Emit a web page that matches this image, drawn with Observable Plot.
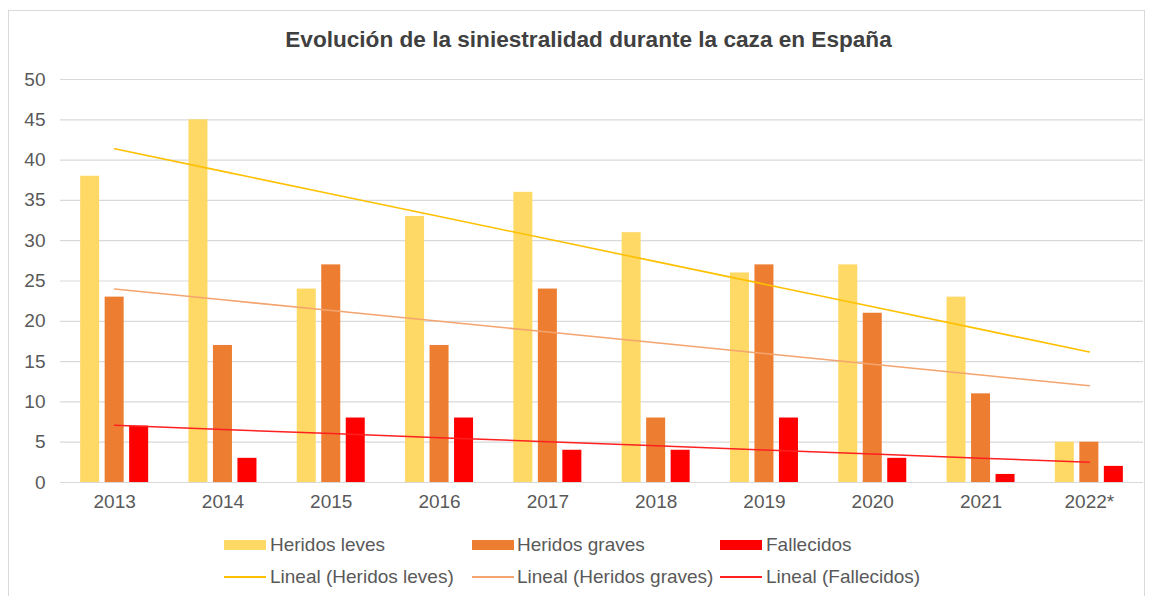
<!DOCTYPE html>
<html>
<head>
<meta charset="utf-8">
<script src="https://cdn.jsdelivr.net/npm/d3@7"></script>
<script src="https://cdn.jsdelivr.net/npm/@observablehq/plot@0.6"></script>
<style>
  html, body { margin: 0; padding: 0; background: #fff; }
  #wrap { position: relative; width: 1153px; height: 596px; overflow: hidden; font-family: "Liberation Sans", Arial, sans-serif; color: #595959; }
  #frame { position: absolute; left: 8px; top: 10px; width: 1137px; height: 600px; border: 1px solid #d9d9d9; box-sizing: border-box; }
  #title { position: absolute; left: 12px; width: 1153px; top: 26px; text-align: center; font-weight: bold; font-size: 22.6px; color: #404040; line-height: 28px; }
  #chart { position: absolute; left: 0; top: 0; }
  .leg { position: absolute; font-size: 19px; line-height: 22px; color: #595959; white-space: nowrap; }
  .sw { position: absolute; }
</style>
</head>
<body>
<div id="wrap">
  <div id="frame"></div>
  <div id="chart"></div>
  <div id="title">Evolución de la siniestralidad durante la caza en España</div>
  <div id="legend"></div>
</div>
<script>
const years = ["2013", "2014", "2015", "2016", "2017", "2018", "2019", "2020", "2021", "2022*"];
const heridosLeves = [38, 45, 24, 33, 36, 31, 26, 27, 23, 5];
const heridosGraves = [23, 17, 27, 17, 24, 8, 27, 21, 11, 5];
const fallecidos = [7, 3, 8, 8, 4, 4, 8, 3, 1, 2];
const yTicks = [0, 5, 10, 15, 20, 25, 30, 35, 40, 45, 50];
const seriesNames = ["Heridos leves", "Heridos graves", "Fallecidos"];
const barColors = ["#FFD966", "#ED7D31", "#FF0000"];
const lineColors = ["#FFC000", "#F4A46E", "#FF2020"];

// least-squares linear trend (Excel "Lineal") computed from the data
function trend(vals) {
  const n = vals.length;
  const xs = vals.map((_, i) => i + 1);
  const mx = d3.mean(xs), my = d3.mean(vals);
  let sxy = 0, sxx = 0;
  for (let i = 0; i < n; i++) { sxy += (xs[i] - mx) * (vals[i] - my); sxx += (xs[i] - mx) ** 2; }
  const b = sxy / sxx, a = my - b * mx;
  return xs.map(x => a + b * x);
}

const allSeries = [heridosLeves, heridosGraves, fallecidos];
const table = allSeries.map(vals => years.map((y, i) => ({year: y, value: vals[i]})));
const trendTables = allSeries.map(vals => { const t = trend(vals); return years.map((y, i) => ({year: y, value: t[i]})); });

const bandW = 68, barW = 19, barStep = 24.5;
const barMarks = table.map((data, k) => Plot.barY(data, {
  x: "year", y: "value", fill: barColors[k],
  insetLeft: k * barStep, insetRight: bandW - k * barStep - barW
}));
const lineMarks = trendTables.map((data, k) => Plot.line(data, {
  x: "year", y: "value", stroke: lineColors[k], strokeWidth: k === 2 ? 1.5 : 1.6
}));

const chart = Plot.plot({
  width: 1153,
  height: 530,
  marginLeft: 60,
  marginRight: 10,
  marginTop: 79,
  marginBottom: 48,
  style: {fontFamily: "'Liberation Sans', Arial, sans-serif", fontSize: "19px", color: "#595959", background: "transparent"},
  x: {type: "band", domain: years, paddingInner: 0.372, paddingOuter: 0.186, round: false, label: null},
  y: {domain: [0, 50], label: null},
  marks: [
    Plot.ruleY(yTicks, {stroke: "#d9d9d9", strokeWidth: 1.2}),
    ...barMarks,
    ...lineMarks,
    Plot.axisY(yTicks, {tickSize: 0, tickPadding: 15, fontSize: 19, fill: "#595959", label: null}),
    Plot.axisX({tickSize: 0, tickPadding: 12, fontSize: 19, fill: "#595959", label: null})
  ]
});
document.getElementById("chart").appendChild(chart);

// legend
const legend = document.getElementById("legend");
const swX = [224, 472, 720];
const txtX = [270, 517, 766];
seriesNames.forEach((name, k) => {
  const s = document.createElement("div");
  s.className = "sw";
  s.style.cssText = `left:${swX[k]}px;top:540px;width:42px;height:10px;background:${barColors[k]}`;
  legend.appendChild(s);
  const t = document.createElement("div");
  t.className = "leg";
  t.style.cssText = `left:${txtX[k]}px;top:534px`;
  t.textContent = name;
  legend.appendChild(t);
  const s2 = document.createElement("div");
  s2.className = "sw";
  s2.style.cssText = `left:${swX[k]}px;top:576px;width:42px;height:2px;background:${lineColors[k]}`;
  legend.appendChild(s2);
  const t2 = document.createElement("div");
  t2.className = "leg";
  t2.style.cssText = `left:${txtX[k]}px;top:566px`;
  t2.textContent = "Lineal (" + name + ")";
  legend.appendChild(t2);
});
</script>
</body>
</html>
